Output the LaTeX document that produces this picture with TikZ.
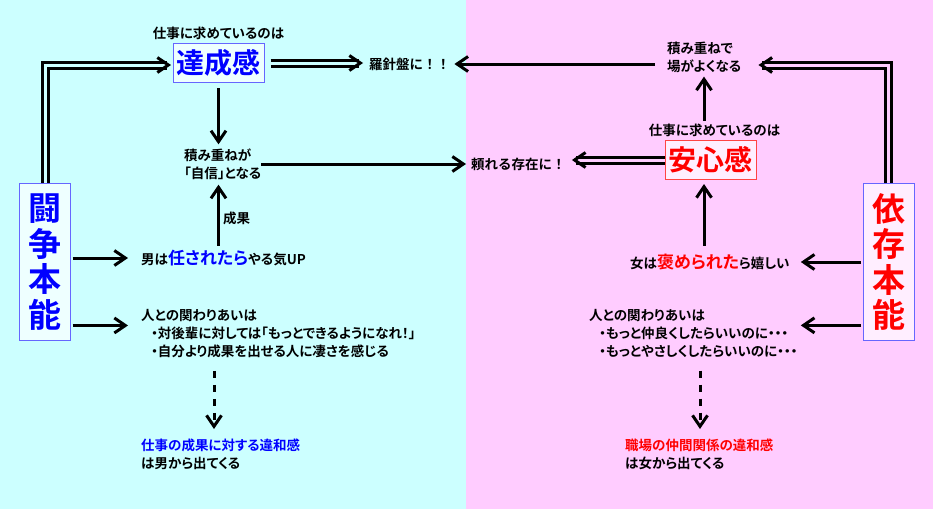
\documentclass[tikz,border=0pt]{standalone}
\usepackage{fontspec}
\setmainfont{Noto Sans CJK JP}[BoldFont={* Bold}, RawFeature=+palt]
\usepackage{tikz}
\usetikzlibrary{positioning,arrows.meta,calc,decorations.markings}
\definecolor{sky}       {HTML}{CCFFFF}
\definecolor{blush}     {HTML}{FFCCFF}
\definecolor{skylite}   {HTML}{EEFFFF}
\definecolor{blushlite} {HTML}{FFEEFF}
\definecolor{frameblue} {HTML}{6666FF}
\definecolor{framered}  {HTML}{FF4444}
\definecolor{ink}       {HTML}{000000}
\definecolor{keyblue}   {HTML}{0000FF}
\definecolor{keyred}    {HTML}{FF0000}
\tikzset{
  every node/.style={font=\fontsize{13.5}{18}\selectfont\bfseries, inner sep=0pt},
  % --- nodes
  txt/.style      = {align=left, text=ink},
  wide/.style     = {font=\fontsize{13.5}{18}\selectfont\bfseries\addfontfeatures{RawFeature=-palt}},
  keybox/.style   = {draw, line width=1pt, minimum width=91pt, minimum height=39pt,
                     font=\fontsize{28}{30}\selectfont\bfseries},
  instinct/.style = {draw=frameblue, line width=1pt, minimum width=51pt, minimum height=157pt,
                     align=center, font=\fontsize{33}{35.5}\selectfont\bfseries},
  % --- edges
  e/.style        = {-{Straight Barb[length=11pt,width=15pt]}, line width=3pt, draw=ink},
  ew/.style       = {draw=ink, line width=9pt, shorten >=4pt,
                     postaction={draw=#1, line width=3pt},
                     postaction={decorate, shorten >=0pt, decoration={markings, mark=at position 1 with
                       {\arrow[line width=3pt, ink]{Straight Barb[length=11pt,width=15pt]}}}}},
  edash/.style    = {e, dash pattern=on 7pt off 7pt},
}

\begin{document}
\begin{tikzpicture}[x=1pt,y=-1pt]
  \useasboundingbox (0,0) rectangle (933,509);
  \fill[sky]   (0,0)   rectangle (466,509);
  \fill[blush] (466,0) rectangle (933,509);

  % left half
  \node[instinct, fill=skylite, text=keyblue] (toso) at (45,262) {闘\\争\\本\\能};
  \node[keybox, draw=frameblue, fill=skylite, text=keyblue] (tassei) at (218.5,63) {達成感};
  \node[txt, above=3pt of tassei] (shigotoL) {仕事に求めているのは};
  \node[txt, wide, anchor=west] (rashin) at (369,64) {羅針盤に！！};
  \node[txt, anchor=west] (jishin) at (184,164) {積み重ねが\\「自信」となる};
  \node[txt, anchor=west] (makase) at (141,258)
    {男は{\color{keyblue}\fontsize{17}{18}\selectfont 任されたら}やる気UP};
  \node[txt, anchor=north west] (kakawariL) at (141,309)
    {人との関わりあいは\\\hspace*{10pt}・対後輩に対しては「もっとできるようになれ！」\\\hspace*{10pt}・自分より成果を出せる人に凄さを感じる};
  \node[txt, anchor=north west] (iwakanL) at (141,439)
    {{\color{keyblue}仕事の成果に対する違和感}\\は男から出てくる};

  % right half
  \node[instinct, fill=blushlite, text=keyred] (izon) at (888.5,262) {依\\存\\本\\能};
  \node[keybox, draw=framered, fill=blushlite, text=keyred] (anshin) at (710.5,160) {安心感};
  \node[txt, above=3pt of anshin, xshift=4pt] (shigotoR) {仕事に求めているのは};
  \node[txt, anchor=west] (tsumiR) at (667,57) {積み重ねで\\場がよくなる};
  \node[txt, wide, anchor=west] (tayoreru) at (471,164) {頼れる存在に！};
  \node[txt, anchor=west] (homeru) at (630,262)
    {女は{\color{keyred}\fontsize{17}{18}\selectfont 褒められた}ら嬉しい};
  \node[txt, anchor=north west] (kakawariR) at (589,309)
    {人との関わりあいは\\\hspace*{10pt}・もっと仲良くしたらいいのに・・・\\\hspace*{10pt}・もっとやさしくしたらいいのに・・・};
  \node[txt, anchor=north west] (iwakanR) at (625,439)
    {{\color{keyred}職場の仲間関係の違和感}\\は女から出てくる};
  \coordinate (axisR) at (704,0);

  % left connectors
  \draw[ew=sky] (toso.north) |- ([yshift=-2pt, xshift=-1.5pt]tassei.west);
  \draw[ew=sky] ([xshift=6pt]tassei.east) -- ([xshift=-6pt]tassei.east -| rashin.west);
  \draw[e, shorten <=5pt, shorten >=4pt] (tassei.south) -- (jishin.north -| tassei.south);
  \draw[e, shorten <=4pt, shorten >=5pt] (makase.north -| tassei.south) -- (jishin.south -| tassei.south)
    node[pos=0.45, right=3pt, txt] (seika) {成果};
  \draw[e, shorten >=5pt] (jishin.east) -- (jishin.east -| tayoreru.west);
  \draw[e, shorten <=1.5pt, shorten >=13pt] (toso.east |- makase.west) -- (makase.west);
  \draw[e, shorten <=1.5pt, shorten >=13pt] ([yshift=8pt]kakawariL.west -| toso.east) -- ([yshift=8pt]kakawariL.west);
  \draw[edash, shorten <=13pt, shorten >=10pt] ([xshift=73pt]kakawariL.south west) -- ([xshift=73pt]iwakanL.north west);

  % right connectors
  \draw[ew=blush] (izon.north) |- ([yshift=-8pt, xshift=17pt]tsumiR.east);
  \draw[e, shorten <=12pt, shorten >=4pt] (tsumiR.west |- rashin.east) -- (rashin.east);
  \draw[e, shorten <=3pt, shorten >=4pt] (shigotoR.north -| axisR) -- (tsumiR.south -| axisR);
  \draw[ew=blush] (anshin.west) -- ([xshift=6pt]anshin.west -| tayoreru.east);
  \draw[e, shorten <=8pt, shorten >=4pt] (homeru.north -| axisR) -- (anshin.south -| axisR);
  \draw[e, shorten <=1.5pt, shorten >=11pt] (izon.west |- homeru.east) -- (homeru.east);
  \draw[e, shorten <=1.5pt, shorten >=11pt] ([yshift=8pt]kakawariR.east -| izon.west) -- ([yshift=8pt]kakawariR.east -| homeru.east);
  \draw[edash, shorten <=13pt, shorten >=10pt] ([xshift=111pt]kakawariR.south west) -- ([xshift=111pt]kakawariR.south west |- iwakanR.north);
\end{tikzpicture}
\end{document}
